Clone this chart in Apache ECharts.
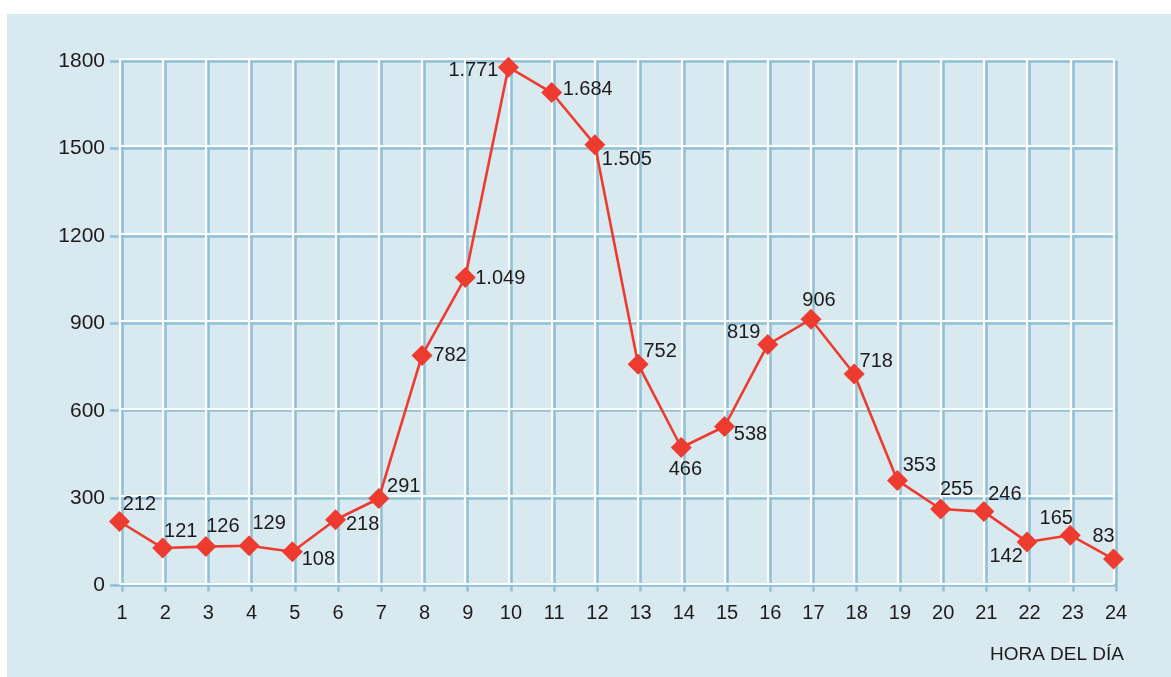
<!DOCTYPE html>
<html>
<head>
<meta charset="utf-8">
<script src="https://cdn.jsdelivr.net/npm/echarts@6/dist/echarts.min.js"></script>
<style>
html,body{margin:0;padding:0;background:#ffffff;}
#chart{width:1171px;height:677px;}
</style>
</head>
<body>
<div id="chart"></div>
<script>
// ---- data ----
const hours = ['1','2','3','4','5','6','7','8','9','10','11','12','13','14','15','16','17','18','19','20','21','22','23','24'];
const values = [212,121,126,129,108,218,291,782,1049,1771,1684,1505,752,466,538,819,906,718,353,255,246,142,165,83];
const yTicks = [0,300,600,900,1200,1500,1800];
const xAxisTitle = 'HORA DEL DÍA';

// ---- label placement (layout only) ----
const labelOffsets = [
  [20,-17],[18,-17],[17,-20],[20,-22],[26,8],[27,5],[25,-12],[28,0],
  [35,1],[-35,3],[36,-3],[32,15],[22,-13],[4,22],[26,8],[-24,-12],
  [8,-19],[22,-13],[22,-15],[16,-19],[21,-17],[-21,15],[-14,-17],[-10,-23]
];

const FONT = '"Liberation Sans", Arial, sans-serif';
const TXT = '#1e1b1c';
const BLUE = '#8fc0d8';
const RED = '#ee3b2f';

function fmt(v){
  if (v >= 1000) { const s = String(v); return s.slice(0, s.length-3) + '.' + s.slice(-3); }
  return String(v);
}

const W = 994, H = 524.6;
const chart = echarts.init(document.getElementById('chart'), null, {renderer:'canvas'});
chart.setOption({
  animation:false,
  backgroundColor:'#ffffff',
  graphic:[
    {type:'rect', z:-10, shape:{x:7,y:14,width:1164,height:663}, style:{fill:'#d9e9f0'}, silent:true},
    {type:'text', z:5, right:1171-1124, top:645, style:{text:xAxisTitle, fill:TXT, font:'19px ' + FONT}}
  ],
  grid:[
    {left:122, top:61, width:W, height:H},
    {left:119.5, top:58.7, width:W, height:H}
  ],
  xAxis:[
    {gridIndex:0, type:'category', data:hours, boundaryGap:false, z:0,
     axisLine:{show:false},
     axisTick:{show:true, alignWithLabel:true, length:6, lineStyle:{color:BLUE, width:2.5}},
     axisLabel:{color:TXT, fontSize:20, fontFamily:FONT, margin:18},
     splitLine:{show:true, lineStyle:{color:BLUE, width:2.6}}},
    {gridIndex:1, type:'category', data:hours, boundaryGap:false, z:1,
     axisLine:{show:false}, axisTick:{show:false}, axisLabel:{show:false},
     splitLine:{show:true, lineStyle:{color:'#ffffff', width:2.2}}}
  ],
  yAxis:[
    {gridIndex:0, type:'value', min:0, max:1800, interval:300, z:0,
     axisLine:{show:false},
     axisTick:{show:true, length:12, lineStyle:{color:BLUE, width:2.5}},
     axisLabel:{color:TXT, fontSize:21, fontFamily:FONT, margin:17,
       formatter:function(v){ return yTicks.indexOf(v) >= 0 ? String(v) : ''; }},
     splitLine:{show:true, lineStyle:{color:BLUE, width:2.6}}},
    {gridIndex:1, type:'value', min:0, max:1800, interval:300, z:1,
     axisLine:{show:false}, axisTick:{show:false}, axisLabel:{show:false},
     splitLine:{show:true, lineStyle:{color:'#ffffff', width:2.2}}}
  ],
  series:[{
    type:'line', xAxisIndex:1, yAxisIndex:1, z:3,
    data: values.map(function(v,i){
      return {value:v, label:{offset:labelOffsets[i]}};
    }),
    symbol:'diamond', symbolSize:21,
    lineStyle:{color:RED, width:2.6},
    itemStyle:{color:RED},
    label:{show:true, position:'inside', align:'center', verticalAlign:'middle',
      color:TXT, fontSize:20, fontFamily:FONT,
      formatter:function(p){ return fmt(p.value); }}
  }]
});
</script>
</body>
</html>
